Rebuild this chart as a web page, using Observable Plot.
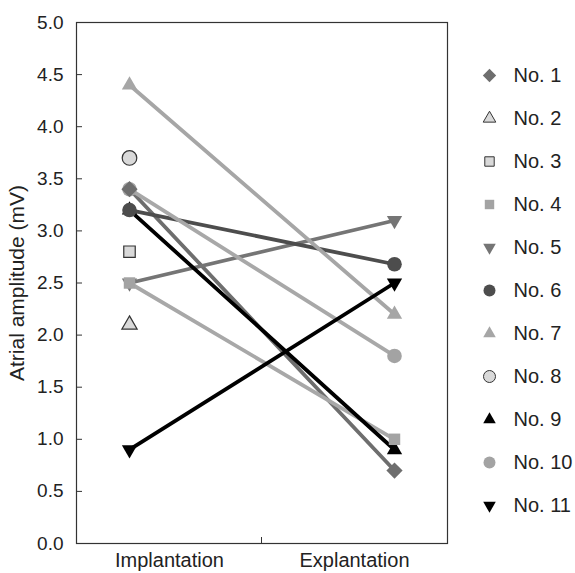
<!DOCTYPE html>
<html><head><meta charset="utf-8">
<script src="https://cdn.jsdelivr.net/npm/d3@7"></script>
<script src="https://cdn.jsdelivr.net/npm/@observablehq/plot@0.6"></script>
<style>
body{margin:0;background:#fff;}
#wrap{position:relative;width:575px;height:573px;font-family:"Liberation Sans",Arial,sans-serif;overflow:hidden;}
#legend{position:absolute;left:447px;top:0;}
#chart{position:absolute;left:0;top:0;}
</style></head><body>
<div id="wrap"><div id="chart"></div><div id="legend"></div></div>
<script>
const stages = ["Implantation", "Explantation"];
const patients = ["No. 1","No. 2","No. 3","No. 4","No. 5","No. 6","No. 7","No. 8","No. 9","No. 10","No. 11"];
const implantation = [3.4, 2.1, 2.8, 2.5, 2.5, 3.2, 4.4, 3.7, 3.2, 3.4, 0.9];
const explantation = [0.7, null, null, 1.0, 3.1, 2.68, 2.2, null, 0.9, 1.8, 2.5];
const yTicks = [0, 0.5, 1, 1.5, 2, 2.5, 3, 3.5, 4, 4.5, 5];

const triangleDown = {
  draw(context, size) {
    const s = Math.sqrt(size) * 0.6824, t = s / 2, u = s * Math.sqrt(3) / 2;
    context.moveTo(0, s); context.lineTo(u, -t); context.lineTo(-u, -t); context.closePath();
  }
};
const symbols = ["diamond2","triangle2","square2","square2",triangleDown,"circle","triangle2","circle","triangle2","circle",triangleDown];
const fills   = ["#6e6e6e","#d9d9d9","#d9d9d9","#a3a3a3","#757575","#4d4d4d","#a6a6a6","#d9d9d9","#000000","#a3a3a3","#000000"];
const outlines= ["none","#333333","#333333","none","none","none","none","#333333","none","none","none"];
const lineColors = ["#6e6e6e","#d9d9d9","#d9d9d9","#a8a8a8","#757575","#4d4d4d","#a6a6a6","#d9d9d9","#000000","#a8a8a8","#000000"];

const rows = [];
patients.forEach((p, i) => {
  [implantation[i], explantation[i]].forEach((v, j) => {
    if (v != null) rows.push({patient: p, i, stage: stages[j], value: v});
  });
});
const drawOrder = rows.slice().sort((a, b) => b.i - a.i);

const font = '"Liberation Sans", Arial, sans-serif';

const divider = (index, scales) => {
  const x = (scales.x(stages[0]) + scales.x(stages[1])) / 2;
  const y = scales.y(0);
  const l = document.createElementNS("http://www.w3.org/2000/svg", "line");
  l.setAttribute("x1", x); l.setAttribute("x2", x);
  l.setAttribute("y1", y); l.setAttribute("y2", y - 6);
  l.setAttribute("stroke", "#333");
  return l;
};

const chart = Plot.plot({
  width: 575, height: 573,
  marginLeft: 76, marginRight: 128, marginTop: 22, marginBottom: 30,
  style: {fontFamily: font, fontSize: "19px", color: "#222", background: "white"},
  x: {type: "point", domain: stages, padding: 0.2, axis: null},
  y: {domain: [0, 5], axis: null},
  marks: [
    Plot.frame({stroke: "#333", strokeWidth: 1.2}),
    Plot.axisY(yTicks, {tickSize: -6, tickPadding: 19, tickFormat: d3.format(".1f"), fontSize: 19, label: null, stroke: "#333"}),
    Plot.text(["Atrial amplitude (mV)"], {frameAnchor: "left", textAnchor: "middle", dx: -59, rotate: -90, fontSize: 21, fill: "#222"}),
    Plot.axisX([stages[0]], {tickSize: 0, tickPadding: 9, dx: 40, fontSize: 20, label: null}),
    Plot.axisX([stages[1]], {tickSize: 0, tickPadding: 9, dx: -40, fontSize: 20, label: null}),
    divider,
    Plot.line(rows, {x: "stage", y: "value", z: "patient", stroke: d => lineColors[d.i], strokeWidth: 3.8}),
    Plot.dot(drawOrder, {x: "stage", y: "value", symbol: d => symbols[d.i], fill: d => fills[d.i],
      stroke: d => outlines[d.i], strokeWidth: 1.2, r: 7.3})
  ]
});
document.getElementById("chart").appendChild(chart);

const legend = Plot.plot({
  width: 128, height: 573, margin: 0,
  style: {fontFamily: font, fontSize: "20px", color: "#222", background: "transparent"},
  x: {domain: [0, 1], axis: null},
  y: {type: "point", domain: patients, range: [73, 507], padding: 0, axis: null},
  marks: [
    Plot.dot(patients, {y: d => d, frameAnchor: "left", dx: 42, symbol: (d, i) => symbols[i],
      fill: (d, i) => fills[i], stroke: (d, i) => outlines[i], strokeWidth: 1, r: 6}),
    Plot.text(patients, {y: d => d, frameAnchor: "left", dx: 66, textAnchor: "start", text: d => d, fill: "#222", fontSize: 20})
  ]
});
document.getElementById("legend").appendChild(legend);
</script>
</body></html>
